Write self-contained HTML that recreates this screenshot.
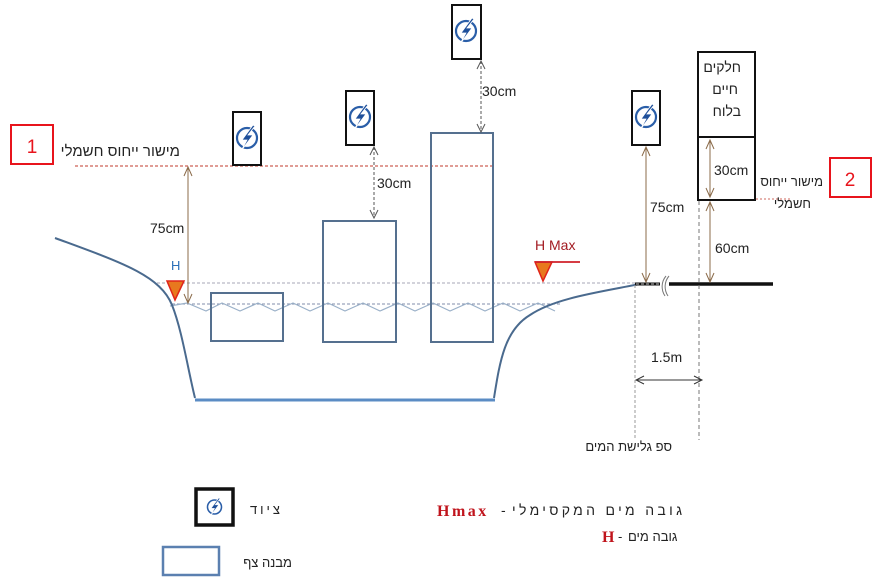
<!DOCTYPE html>
<html><head><meta charset="utf-8"><style>
html,body{margin:0;padding:0;background:#fff;}
svg{display:block;}
text{font-family:"Liberation Sans","Noto Sans CJK SC",sans-serif;}
text.serif{font-family:"Liberation Serif",serif;}
</style></head><body>
<svg width="880" height="581" viewBox="0 0 880 581" xmlns="http://www.w3.org/2000/svg">
<defs>
<g id="bolt">
<circle cx="0" cy="0" r="10" fill="none" stroke="#2a5ea8" stroke-width="2.2"/>
<path d="M6,-13 L-5,2 L0,2 L-6,13 L6,-3 L1,-3 L8,-12 Z" fill="#1e4f9a" stroke="#fff" stroke-width="0.8"/>
</g>
</defs>

<rect x="11" y="125" width="42" height="39" fill="none" stroke="#e8141c" stroke-width="2"/>
<text x="32" y="153" font-size="19" fill="#e8141c" text-anchor="middle">1</text>
<text x="180" y="156" font-size="15" fill="#222" text-anchor="start" direction="rtl">מישור ייחוס חשמלי</text>
<line x1="75" y1="166" x2="495" y2="166" stroke="#c0392b" stroke-width="1" stroke-dasharray="3,2"/>

<g fill="#fff" stroke="#111" stroke-width="2">
<rect x="233" y="112" width="28" height="53"/>
<rect x="346" y="91" width="28" height="54"/>
<rect x="452" y="5" width="29" height="54"/>
<rect x="632" y="91" width="28" height="54"/>
</g>
<use href="#bolt" x="247" y="138"/>
<use href="#bolt" x="360" y="117"/>
<use href="#bolt" x="466" y="31"/>
<use href="#bolt" x="646" y="117"/>

<line x1="157" y1="283" x2="640" y2="283" stroke="#8a8aa0" stroke-width="0.8" stroke-dasharray="3,2"/>
<line x1="172" y1="304" x2="560" y2="304" stroke="#5a6a90" stroke-width="0.8" stroke-dasharray="3,2"/>
<polyline points="170,306 187,303 206,311 222,303 240,311 258,303 275,311 293,303 310,311 328,303 345,311 363,303 380,311 398,303 415,311 433,303 450,311 468,303 485,311 503,303 520,311 538,303 555,311" fill="none" stroke="#9ab0c8" stroke-width="1.2"/>

<path d="M55,238 C120,262 160,275 172,305 C182,330 188,370 195,398" fill="none" stroke="#4a6a8e" stroke-width="2"/>
<path d="M494,398 C500,360 505,330 530,315 C555,298 600,292 640,284" fill="none" stroke="#4a6a8e" stroke-width="2"/>
<line x1="195" y1="400" x2="495" y2="400" stroke="#5b8cc4" stroke-width="3"/>

<g fill="none" stroke="#55708f" stroke-width="2">
<rect x="211" y="293" width="72" height="48"/>
<rect x="323" y="221" width="73" height="121"/>
<rect x="431" y="133" width="62" height="209"/>
</g>

<g stroke="#8b6b4a" stroke-width="1" fill="none">
<line x1="188" y1="167" x2="188" y2="303"/>
<polyline points="184,176 188,167 192,176"/>
<polyline points="184,294 188,303 192,294"/>
</g>
<text x="150" y="233" font-size="14" fill="#222">75cm</text>
<text x="171" y="270" font-size="13" fill="#2a6fb8">H</text>
<polygon points="167,281 184,281 175,300" fill="#e8781e" stroke="#e0241a" stroke-width="1.5"/>

<g stroke="#555" stroke-width="1" fill="none">
<line x1="374" y1="147" x2="374" y2="218" stroke-dasharray="3,2"/>
<polyline points="370,155 374,147 378,155"/>
<polyline points="370,210 374,218 378,210"/>
<line x1="481" y1="61" x2="481" y2="132" stroke-dasharray="3,2"/>
<polyline points="477,69 481,61 485,69"/>
<polyline points="477,124 481,132 485,124"/>
</g>
<text x="377" y="188" font-size="14" fill="#222">30cm</text>
<text x="482" y="96" font-size="14" fill="#222">30cm</text>

<text x="535" y="250" font-size="14" fill="#a31b22">H Max</text>
<polygon points="535,262 552,262 543,281" fill="#e8781e" stroke="#e0241a" stroke-width="1.5"/>
<line x1="535" y1="262" x2="580" y2="262" stroke="#d0202a" stroke-width="1.8"/>

<line x1="635" y1="284" x2="660" y2="284" stroke="#111" stroke-width="3"/>
<line x1="636" y1="284" x2="660" y2="284" stroke="#fff" stroke-width="0.8" stroke-dasharray="3,2"/>
<path d="M666,276 C661,282 661,290 665,296 M669,276 C664,282 664,290 668,296" fill="none" stroke="#777" stroke-width="1"/>
<line x1="669" y1="284" x2="773" y2="284" stroke="#111" stroke-width="3.5"/>

<g stroke="#8b6b4a" stroke-width="1" fill="none">
<line x1="646" y1="147" x2="646" y2="282"/>
<polyline points="642,156 646,147 650,156"/>
<polyline points="642,273 646,282 650,273"/>
<line x1="710" y1="140" x2="710" y2="197"/>
<polyline points="706,149 710,140 714,149"/>
<polyline points="706,188 710,197 714,188"/>
<line x1="710" y1="202" x2="710" y2="282"/>
<polyline points="706,211 710,202 714,211"/>
<polyline points="706,273 710,282 714,273"/>
</g>
<text x="650" y="212" font-size="14" fill="#222">75cm</text>

<g fill="none" stroke="#111" stroke-width="2">
<rect x="698" y="52" width="57" height="85"/>
<rect x="698" y="137" width="57" height="63"/>
</g>
<text x="741" y="72" font-size="14" fill="#222" text-anchor="start" direction="rtl">חלקים</text>
<text x="738" y="94" font-size="14" fill="#222" text-anchor="start" direction="rtl">חיים</text>
<text x="741" y="116" font-size="14" fill="#222" text-anchor="start" direction="rtl">בלוח</text>
<text x="714" y="175" font-size="14" fill="#222">30cm</text>
<text x="715" y="253" font-size="14" fill="#222">60cm</text>
<line x1="756" y1="199" x2="790" y2="199" stroke="#c0392b" stroke-width="0.8" stroke-dasharray="2,2"/>
<text x="823" y="186" font-size="13" fill="#222" text-anchor="start" direction="rtl">מישור ייחוס</text>
<text x="811" y="208" font-size="13" fill="#222" text-anchor="start" direction="rtl">חשמלי</text>
<rect x="830" y="158" width="41" height="39" fill="none" stroke="#e8141c" stroke-width="2"/>
<text x="850" y="186" font-size="19" fill="#e8141c" text-anchor="middle">2</text>

<line x1="635" y1="285" x2="635" y2="440" stroke="#999" stroke-width="1" stroke-dasharray="3,2"/>
<line x1="699" y1="201" x2="699" y2="440" stroke="#777" stroke-width="1" stroke-dasharray="4,3"/>
<g stroke="#333" stroke-width="1" fill="none">
<line x1="636" y1="380" x2="702" y2="380"/>
<polyline points="644,376 636,380 644,384"/>
<polyline points="694,376 702,380 694,384"/>
</g>
<text x="651" y="362" font-size="14" fill="#222">1.5m</text>
<text x="672" y="451" font-size="13" fill="#222" text-anchor="start" direction="rtl">ספ גלישת המים</text>

<rect x="196" y="489" width="37" height="36" fill="#fff" stroke="#111" stroke-width="3.5"/>
<use href="#bolt" transform="translate(214.5,507) scale(0.7)"/>
<text x="283" y="514" font-size="13" fill="#222" text-anchor="start" direction="rtl" letter-spacing="3">ציוד</text>
<rect x="163" y="547" width="56" height="28" fill="none" stroke="#5b80b0" stroke-width="2.5"/>
<text x="292" y="567" font-size="13" fill="#222" text-anchor="start" direction="rtl">מבנה צף</text>

<text class="serif" x="437" y="516" font-size="16" fill="#c0141c" font-weight="bold" letter-spacing="2.5">Hmax</text>
<text x="501" y="515" font-size="14" fill="#222">-</text>
<text x="512" y="515" font-size="14" fill="#222" textLength="170" lengthAdjust="spacing">גובה מים המקסימלי</text>
<text class="serif" x="602" y="542" font-size="16" fill="#c0141c" font-weight="bold">H</text>
<text x="618" y="541" font-size="13" fill="#222">-</text>
<text x="628" y="541" font-size="13" fill="#222">גובה מים</text>
</svg>
</body></html>
